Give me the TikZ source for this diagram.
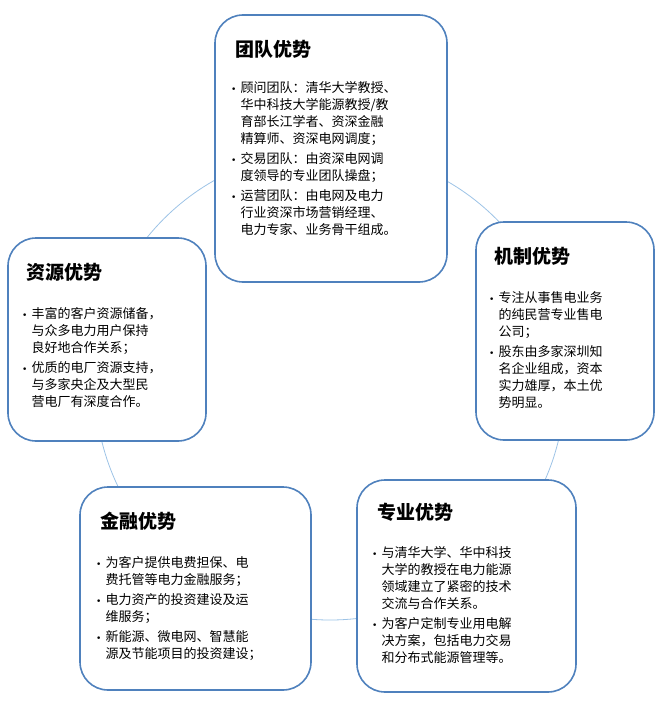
\documentclass[tikz,border=0pt]{standalone}
\usepackage{fontspec}
\setmainfont{Noto Sans CJK SC}
\newfontfamily\bfnt{DejaVu Sans}
\newcommand{\bl}[1]{\begin{tabular}{@{}l@{\hspace{4pt}}l@{}}#1\end{tabular}}
\newcommand{\bu}{{\bfnt\fontsize{9}{9}\selectfont•}}
\definecolor{bd}{RGB}{79,129,189}
\definecolor{cl}{RGB}{157,195,230}
\tikzset{
 card/.style={draw=bd,line width=1.6pt,rounded corners=28pt,fill=white},
 ttlt/.style={anchor=north west,inner sep=0pt,font=\fontsize{19}{22}\selectfont\bfseries},
 body/.style={anchor=north west,inner sep=0pt,font=\fontsize{13}{17}\selectfont,align=left},
}
\begin{document}
\begin{tikzpicture}[x=1pt,y=-1pt]
\useasboundingbox (0,0) rectangle (662,706);
\draw[cl,line width=0.8pt] (330,385) circle[radius=235];
% team
\draw[card] (215,15) rectangle (447,282);
\node[ttlt] (t1) at (235,40) {团队优势};
\node[body] (b1) at (231,80) {\bl{\bu&顾问团队：清华大学教授、\\&华中科技大学能源教授/教\\&育部长江学者、资深金融\\&精算师、资深电网调度；\\[3pt]
\bu&交易团队：由资深电网调\\&度领导的专业团队操盘；\\[3pt]
\bu&运营团队：由电网及电力\\&行业资深市场营销经理、\\&电力专家、业务骨干组成。}};
% mechanism
\draw[card] (476,222) rectangle (654,440);
\node[ttlt] (t2) at (494,247) {机制优势};
\node[body] (b2) at (489,290) {\bl{\bu&专注从事售电业务\\&的纯民营专业售电\\&公司；\\[3pt]
\bu&股东由多家深圳知\\&名企业组成，资本\\&实力雄厚，本土优\\&势明显。}};
% professional
\draw[card] (357,480) rectangle (576,692);
\node[ttlt] (t3) at (377,503) {专业优势};
\node[body] (b3) at (372,545) {\bl{\bu&与清华大学、华中科技\\&大学的教授在电力能源\\&领域建立了紧密的技术\\&交流与合作关系。\\[3pt]
\bu&为客户定制专业用电解\\&决方案，包括电力交易\\&和分布式能源管理等。}};
% finance
\draw[card] (80,487) rectangle (311,690);
\node[ttlt] (t4) at (100,512) {金融优势};
\node[body] (b4) at (96,555) {\bl{\bu&为客户提供电费担保、电\\&费托管等电力金融服务；\\[3pt]
\bu&电力资产的投资建设及运\\&维服务；\\[3pt]
\bu&新能源、微电网、智慧能\\&源及节能项目的投资建设；}};
% resource
\draw[card] (8,238) rectangle (206,441);
\node[ttlt] (t5) at (26,263) {资源优势};
\node[body] (b5) at (22,306) {\bl{\bu&丰富的客户资源储备，\\&与众多电力用户保持\\&良好地合作关系；\\[3pt]
\bu&优质的电厂资源支持，\\&与多家央企及大型民\\&营电厂有深度合作。}};
\end{tikzpicture}
\end{document}
